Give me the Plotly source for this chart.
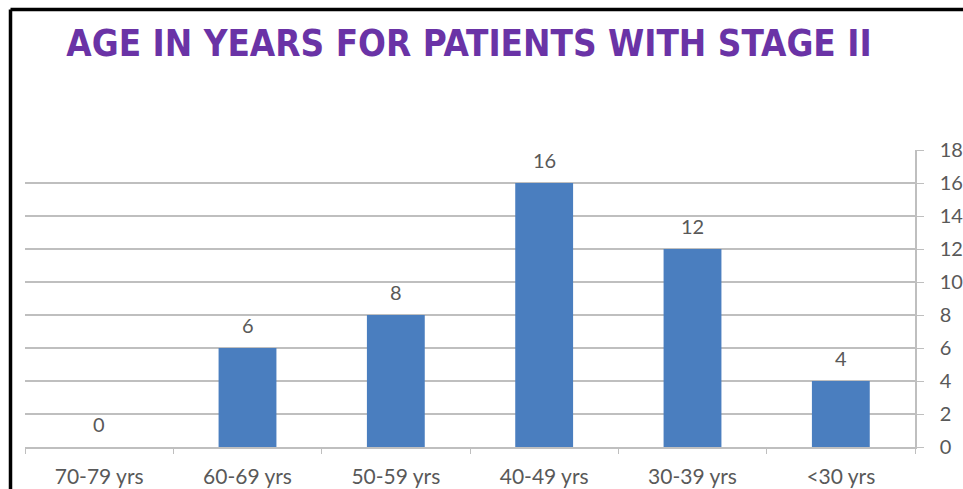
import plotly.graph_objects as go

# Age groups and number of stage II patients in each
age_groups = ["70-79 yrs", "60-69 yrs", "50-59 yrs", "40-49 yrs", "30-39 yrs", "<30 yrs"]
patients = [0, 6, 8, 16, 12, 4]
y_ticks = [0, 2, 4, 6, 8, 10, 12, 14, 16, 18]

TEXT_GRAY = "#595959"
GRID_GRAY = "#BFBFBF"
BAR_BLUE = "#4A7EBF"
TITLE_PURPLE = "#6A33A6"
FONT = "Lato, Open Sans, sans-serif"

fig = go.Figure()
fig.add_trace(go.Bar(
    x=age_groups,
    y=patients,
    marker=dict(color=BAR_BLUE, line=dict(width=0)),
    width=0.39,
    hoverinfo="x+y",
))

# value labels above each bar
for g, v in zip(age_groups, patients):
    fig.add_annotation(
        x=g, y=v, text=str(v), showarrow=False, yshift=23,
        font=dict(family=FONT, size=20, color=TEXT_GRAY),
    )

W, H = 963, 489
ML, MR, MT, MB = 25, 48, 150, 42
pw, ph = W - ML - MR, H - MT - MB


def px_x(px):
    return (px - ML) / pw


def px_y(py):
    return (H - MB - py) / ph


# black frame along the top and left edges
fig.add_shape(type="line", xref="paper", yref="paper",
              x0=px_x(10.5), x1=px_x(980), y0=px_y(9.5), y1=px_y(9.5),
              line=dict(color="black", width=3.5))
fig.add_shape(type="line", xref="paper", yref="paper",
              x0=px_x(10.5), x1=px_x(10.5), y0=px_y(9.5), y1=px_y(500),
              line=dict(color="black", width=3.5))

fig.update_layout(
    width=W, height=H,
    margin=dict(l=ML, r=MR, t=MT, b=MB, autoexpand=False),
    paper_bgcolor="white", plot_bgcolor="white",
    showlegend=False,
    title=dict(
        text="<b>AGE IN YEARS FOR PATIENTS WITH STAGE II</b>",
        x=0.487, xanchor="center", y=1 - 43 / H, yanchor="middle",
        font=dict(family="DejaVu Sans Condensed, sans-serif",
                  size=36.5, color=TITLE_PURPLE),
    ),
    xaxis=dict(
        type="category",
        automargin=False,
        showgrid=False,
        showline=True, linecolor=GRID_GRAY, linewidth=1.5,
        ticks="outside", tickson="boundaries", ticklen=5, tickcolor=GRID_GRAY,
        tickfont=dict(family=FONT, size=21, color=TEXT_GRAY),
        ticklabelstandoff=10,
        fixedrange=True,
    ),
    yaxis=dict(
        side="right",
        automargin=False,
        range=[0, 18],
        tickvals=y_ticks,
        showgrid=True, gridcolor=GRID_GRAY, gridwidth=1.5,
        showline=True, linecolor=GRID_GRAY, linewidth=1.5,
        ticks="outside", ticklen=7, tickcolor=GRID_GRAY,
        tickfont=dict(family=FONT, size=20, color=TEXT_GRAY),
        ticklabelstandoff=12,
        zeroline=False,
        fixedrange=True,
    ),
    bargap=0.61,
)

fig.write_html("out.html")
